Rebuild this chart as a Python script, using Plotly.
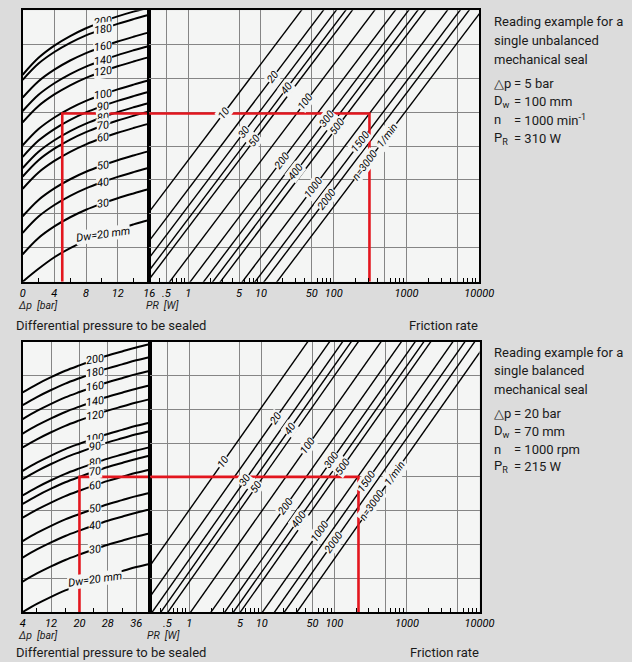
import numpy as np
import plotly.graph_objects as go

W, H = 632, 662

# ---------------- DATA ----------------
# Upper chart: single unbalanced seal. Dw curves, level (grid units 0..8) read at these pressures
top_dp = [0, 2, 4, 6, 8, 10, 12, 14, 16]
top_dw200 = [6.10, 6.60, 6.96, 7.24, 7.47, 7.66, 7.82, 7.96, 8.08]
top_dw180 = [5.95, 6.43, 6.77, 7.04, 7.26, 7.44, 7.60, 7.74, 7.87]
top_dw160 = [5.43, 5.91, 6.25, 6.52, 6.74, 6.92, 7.08, 7.22, 7.35]
top_dw140 = [5.03, 5.51, 5.85, 6.12, 6.34, 6.52, 6.68, 6.82, 6.95]
top_dw120 = [4.70, 5.18, 5.52, 5.79, 6.01, 6.19, 6.35, 6.49, 6.62]
top_dw100 = [4.02, 4.50, 4.84, 5.11, 5.33, 5.51, 5.67, 5.81, 5.94]
top_dw90 = [3.68, 4.16, 4.50, 4.77, 4.99, 5.17, 5.33, 5.47, 5.60]
top_dw80 = [3.35, 3.83, 4.17, 4.44, 4.66, 4.84, 5.00, 5.14, 5.27]
top_dw70 = [3.10, 3.58, 3.92, 4.19, 4.41, 4.59, 4.75, 4.89, 5.02]
top_dw60 = [2.74, 3.22, 3.56, 3.83, 4.05, 4.23, 4.39, 4.53, 4.66]
top_dw50 = [1.93, 2.41, 2.75, 3.02, 3.24, 3.42, 3.58, 3.72, 3.85]
top_dw40 = [1.44, 1.92, 2.26, 2.53, 2.75, 2.93, 3.09, 3.23, 3.36]
top_dw30 = [0.81, 1.29, 1.63, 1.90, 2.12, 2.30, 2.46, 2.60, 2.73]
top_dw20 = [0.00, 0.38, 0.72, 0.99, 1.21, 1.39, 1.55, 1.69, 1.82]

# Lower chart: single balanced seal
bot_dp = [4, 8, 12, 16, 20, 24, 28, 32, 36, 40]
bot_dw200 = [6.50, 6.74, 6.95, 7.14, 7.30, 7.45, 7.59, 7.71, 7.83, 7.93]
bot_dw180 = [6.12, 6.36, 6.57, 6.76, 6.92, 7.07, 7.21, 7.33, 7.45, 7.55]
bot_dw160 = [5.71, 5.95, 6.16, 6.35, 6.51, 6.66, 6.80, 6.92, 7.04, 7.14]
bot_dw140 = [5.28, 5.52, 5.73, 5.92, 6.08, 6.23, 6.37, 6.49, 6.61, 6.71]
bot_dw120 = [4.87, 5.11, 5.32, 5.51, 5.67, 5.82, 5.96, 6.08, 6.20, 6.30]
bot_dw100 = [4.18, 4.42, 4.63, 4.82, 4.98, 5.13, 5.27, 5.39, 5.51, 5.61]
bot_dw90 = [3.93, 4.17, 4.38, 4.57, 4.73, 4.88, 5.02, 5.14, 5.26, 5.36]
bot_dw80 = [3.45, 3.69, 3.90, 4.09, 4.25, 4.40, 4.54, 4.66, 4.78, 4.88]
bot_dw70 = [3.20, 3.44, 3.65, 3.84, 4.00, 4.15, 4.29, 4.41, 4.53, 4.63]
bot_dw60 = [2.79, 3.03, 3.24, 3.43, 3.59, 3.74, 3.88, 4.00, 4.12, 4.22]
bot_dw50 = [2.10, 2.34, 2.55, 2.74, 2.90, 3.05, 3.19, 3.31, 3.43, 3.53]
bot_dw40 = [1.61, 1.85, 2.06, 2.25, 2.41, 2.56, 2.70, 2.82, 2.94, 3.04]
bot_dw30 = [0.90, 1.14, 1.35, 1.54, 1.70, 1.85, 1.99, 2.11, 2.23, 2.33]
bot_dw20 = [0.00, 0.24, 0.45, 0.64, 0.80, 0.95, 1.09, 1.21, 1.33, 1.43]

dw_names = ["200", "180", "160", "140", "120", "100", "90", "80", "70", "60",
            "50", "40", "30", "Dw=20 mm"]

# Speed lines (n in 1/min): friction power PR [W] where each line meets the top grid line (level 8)
n_names = ["10", "20", "30", "40", "50", "100", "200", "300", "400", "500",
           "1000", "1500", "2000", "n=3000"]
top_pr_at_8 = [36, 72, 108, 146, 180, 365, 700, 1070, 1430, 1820, 3650, 5450, 7250, 10900]
bot_pr_at_8 = [43, 86, 130, 171, 214, 440, 840, 1300, 1710, 2130, 4300, 6300, 8600, 12800]
top_slope = 2.84   # grid units per decade of PR
bot_slope = 3.05
# level where each speed label sits
top_n_label_lvl = [4.96, 6.04, 4.42, 5.69, 4.17, 5.30, 3.58, 4.81, 3.24, 4.56, 2.77, 4.12, 2.43, 3.42]
bot_n_label_lvl = [4.45, 5.73, 3.91, 5.43, 3.71, 4.92, 3.12, 4.50, 2.74, 4.30, 2.39, 3.86, 2.06, 3.14]
top_unit_lvl = 4.30
bot_unit_lvl = 4.10

# Reading examples
top_ex_dp, top_ex_pr, top_ex_lvl = 5, 310, 4.96
bot_ex_dp, bot_ex_pr, bot_ex_lvl = 20, 215, 4.00

# tick labels
top_dp_ticks = [0, 4, 8, 12, 16]
bot_dp_ticks = [4, 12, 20, 28, 36]
pr_ticks = [0.5, 1, 5, 10, 50, 100, 500, 1000, 5000, 10000]
pr_ticktext = [".5", "1", "5", "10", "50", "100", " ", "1000", " ", "10000"]

# ---------------- STYLE ----------------
PAPER = "#dcdcdc"
PLOT = "#f4f5f4"
GRID = "#858585"
RED = "#e3161e"
TECH = "Roboto, Liberation Sans, sans-serif"
NARROW = "Roboto, Liberation Sans, sans-serif"


def px(x):
    return x / W


def py(y):
    return 1 - y / H


fig = go.Figure()


def add_curve(xs, ys, xa, ya, color="black", width=2.0, shape="spline"):
    fig.add_trace(go.Scatter(x=xs, y=ys, mode="lines", xaxis=xa, yaxis=ya,
                             line=dict(color=color, width=width, shape=shape),
                             hoverinfo="skip", showlegend=False))


annos = []

# ---- Dw curves ----
top_curves = [top_dw200, top_dw180, top_dw160, top_dw140, top_dw120, top_dw100, top_dw90,
              top_dw80, top_dw70, top_dw60, top_dw50, top_dw40, top_dw30, top_dw20]
bot_curves = [bot_dw200, bot_dw180, bot_dw160, bot_dw140, bot_dw120, bot_dw100, bot_dw90,
              bot_dw80, bot_dw70, bot_dw60, bot_dw50, bot_dw40, bot_dw30, bot_dw20]

for dps, curves, xa, ya, lab_dp in [(top_dp, top_curves, "x", "y", 10.1),
                                     (bot_dp, bot_curves, "x3", "y3", 24.3)]:
    for name, c in zip(dw_names, curves):
        add_curve(dps, c, xa, ya, width=2.0)
        lvl = float(np.interp(lab_dp, dps, c))
        annos.append(dict(x=lab_dp, y=lvl, xref=xa, yref=ya, text=name, showarrow=False,
                          textangle=-8, bgcolor=PLOT, borderpad=0,
                          font=dict(family=TECH, size=11, color="black", style="italic")))

# ---- speed lines ----
for pr8s, lvls, slope, xa, ya, ulvl in [(top_pr_at_8, top_n_label_lvl, top_slope, "x2", "y2", top_unit_lvl),
                                         (bot_pr_at_8, bot_n_label_lvl, bot_slope, "x4", "y4", bot_unit_lvl)]:
    ang = -np.degrees(np.arctan(slope * (33.9 / 72.75)))
    for name, p8, lv in zip(n_names, pr8s, lvls):
        u = np.array([-2.0, 10.0])
        xs = p8 * 10 ** (-(8.0 - u) / slope)
        add_curve(list(xs), list(u), xa, ya, width=1.4, shape="linear")
        annos.append(dict(x=np.log10(p8 * 10 ** (-(8.0 - lv) / slope)), y=lv, xref=xa, yref=ya,
                          text=name, showarrow=False, textangle=ang, bgcolor=PLOT, borderpad=0,
                          font=dict(family=TECH, size=10.5, color="black", style="italic")))
    p8 = pr8s[-1]
    annos.append(dict(x=np.log10(p8 * 10 ** (-(8.0 - ulvl) / slope)), y=ulvl, xref=xa, yref=ya,
                      text="1/min", showarrow=False, textangle=ang, bgcolor=PLOT, borderpad=1,
                      font=dict(family=TECH, size=10.5, color="black", style="italic")))

# ---- red reading example ----
for dp, pr, lv, xl, yl, xr, yr, dmax in [(top_ex_dp, top_ex_pr, top_ex_lvl, "x", "y", "x2", "y2", 16),
                                          (bot_ex_dp, bot_ex_pr, bot_ex_lvl, "x3", "y3", "x4", "y4", 40)]:
    add_curve([dp, dp, dmax], [0, lv, lv], xl, yl, color=RED, width=2.6, shape="linear")
    add_curve([0.2, pr, pr], [lv, lv, 0], xr, yr, color=RED, width=2.6, shape="linear")

# ---------------- AXES ----------------
common = dict(showline=True, linecolor="black", linewidth=2, mirror=True, zeroline=False,
              showgrid=True, gridcolor=GRID, gridwidth=1, ticks="", fixedrange=True,
              automargin=False,
              tickfont=dict(family=TECH, size=11, color="black", style="italic"))
yaxis_common = dict(common, range=[0, 8], tickmode="array", tickvals=list(range(9)),
                    showticklabels=False)
pr_minor = [v * 10 ** d for d in range(-1, 4) for v in (2, 3, 4, 6, 7, 8, 9)]
pr_minor = [v for v in pr_minor if 0.29 < v < 10000]

top_y = [py(281.7), py(10.3)]
bot_y = [py(612.0), py(341.7)]
LOGR = [-0.535, 4.0]

fig.update_layout(
    width=W, height=H, autosize=False, margin=dict(l=0, r=0, t=0, b=0, pad=0),
    paper_bgcolor=PAPER, plot_bgcolor=PLOT, showlegend=False,
    xaxis=dict(common, domain=[px(22.7), px(149.3)], range=[0, 16], anchor="y",
               tickmode="array", tickvals=top_dp_ticks, ticktext=[str(t) for t in top_dp_ticks],
               minor=dict(tickmode="array", tickvals=[2, 6, 10, 14], ticks="inside",
                          ticklen=4, tickcolor="black", showgrid=False)),
    yaxis=dict(yaxis_common, domain=top_y, anchor="x"),
    xaxis2=dict(common, domain=[px(149.3), px(479.2)], type="log", range=LOGR,
                anchor="y2", tickmode="array", tickvals=pr_ticks, ticktext=pr_ticktext,
                minor=dict(tickmode="array", tickvals=pr_minor, ticks="inside",
                           ticklen=4, tickcolor="black", showgrid=False)),
    yaxis2=dict(yaxis_common, domain=top_y, anchor="x2"),
    xaxis3=dict(common, domain=[px(22.7), px(150.4)], range=[4, 40], anchor="y3",
                tickmode="array", tickvals=bot_dp_ticks, ticktext=[str(t) for t in bot_dp_ticks],
                minor=dict(tickmode="array", tickvals=[8, 16, 24, 32], ticks="inside",
                           ticklen=4, tickcolor="black", showgrid=False)),
    yaxis3=dict(yaxis_common, domain=bot_y, anchor="x3"),
    xaxis4=dict(common, domain=[px(150.4), px(479.5)], type="log", range=LOGR,
                anchor="y4", tickmode="array", tickvals=pr_ticks, ticktext=pr_ticktext,
                minor=dict(tickmode="array", tickvals=pr_minor, ticks="inside",
                           ticklen=4, tickcolor="black", showgrid=False)),
    yaxis4=dict(yaxis_common, domain=bot_y, anchor="x4"),
)


# ---------------- TEXT ----------------
def ptext(x, y, text, size=13, anchor="left", family=NARROW, italic=False):
    annos.append(dict(x=px(x), y=py(y), xref="paper", yref="paper", text=text, showarrow=False,
                      xanchor=anchor, yanchor="middle", borderpad=0,
                      font=dict(family=family, size=size, color="#1a1a1a",
                                style="italic" if italic else "normal")))


# axis captions
ptext(17, 305, "Δp  [bar]", size=10.5, family=TECH, italic=True)
ptext(145, 305, "PR  [W]", size=10.5, family=TECH, italic=True)
ptext(17, 635, "Δp  [bar]", size=10.5, family=TECH, italic=True)
ptext(146, 635, "PR  [W]", size=10.5, family=TECH, italic=True)
ptext(15, 325, "Differential pressure to be sealed", size=13)
ptext(479, 325, "Friction rate", size=13, anchor="right")
ptext(15, 652, "Differential pressure to be sealed", size=13)
ptext(480, 652, "Friction rate", size=13, anchor="right")

# reading examples
top_lines = ["Reading example for a", "single unbalanced", "mechanical seal"]
for i, t in enumerate(top_lines):
    ptext(493, 21 + 19.3 * i, t)
top_keys = ["△p", "D<sub>w</sub>", "n", "P<sub>R</sub>"]
top_vals = ["= 5 bar", "= 100 mm", "= 1000 min<sup>-1</sup>", "= 310 W"]
for i, (k, v) in enumerate(zip(top_keys, top_vals)):
    ptext(493, 83 + 18.4 * i, k)
    ptext(513, 83 + 18.4 * i, v)

bot_lines = ["Reading example for a", "single balanced", "mechanical seal"]
for i, t in enumerate(bot_lines):
    ptext(493, 352 + 18.8 * i, t)
bot_keys = ["△p", "D<sub>w</sub>", "n", "P<sub>R</sub>"]
bot_vals = ["= 20 bar", "= 70 mm", "= 1000 rpm", "= 215 W"]
for i, (k, v) in enumerate(zip(bot_keys, bot_vals)):
    ptext(493, 413 + 18 * i, k)
    ptext(513, 413 + 18 * i, v)

fig.update_layout(annotations=annos)
fig.write_html(
    "out.html",
    config=dict(displayModeBar=False, responsive=False),
    post_script=(
        "var d=document.getElementsByClassName('plotly-graph-div')[0];"
        "d.style.position='fixed';d.style.left='0px';d.style.top='0px';"
    ),
)
